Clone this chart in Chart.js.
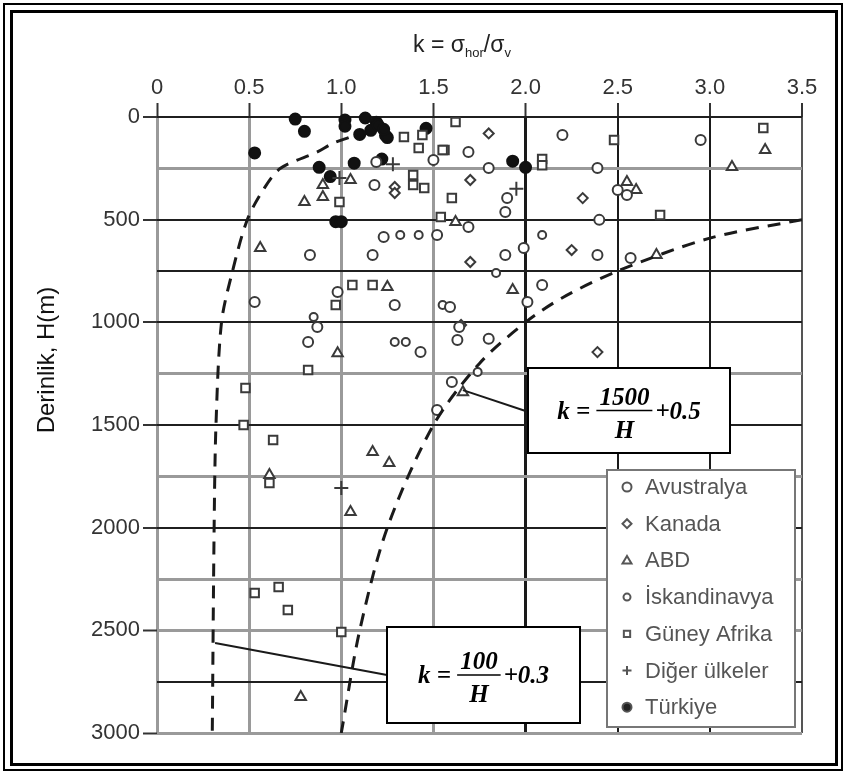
<!DOCTYPE html>
<html>
<head>
<meta charset="utf-8">
<script src="https://cdn.jsdelivr.net/npm/chart.js@4.4.1/dist/chart.umd.min.js"></script>
<style>
  html, body { margin: 0; padding: 0; background: #fff; overflow: hidden; }
  canvas { display: block; }
</style>
</head>
<body>
<canvas id="k-depth" width="844" height="771"></canvas>
<script>
// [k, H] pairs
const avustralya = [
    [2.20, 88], [2.95, 112], [1.69, 170], [1.80, 248], [2.39, 248], [2.50, 356],
    [2.55, 380], [1.90, 395], [1.89, 463], [1.69, 536], [2.40, 501], [1.99, 638],
    [2.39, 672], [1.89, 672], [2.57, 687], [2.09, 818], [2.01, 901], [1.52, 575],
    [1.50, 209], [1.19, 219], [1.18, 331], [1.23, 584], [0.83, 672], [1.17, 672],
    [0.98, 852], [1.29, 916], [0.53, 901], [0.87, 1023], [0.82, 1096], [1.43, 1145],
    [1.64, 1023], [1.63, 1086], [1.60, 1291], [1.52, 1427], [1.80, 1080], [1.59, 925],
];
const kanada = [
    [1.80, 80], [1.70, 307], [2.31, 395], [2.25, 648], [1.70, 706], [1.29, 341],
    [2.39, 1145], [1.65, 1013], [1.29, 370],
];
const abd = [
    [3.30, 161], [3.12, 243], [2.55, 317], [2.60, 356], [1.62, 511], [2.71, 672],
    [1.93, 843], [1.05, 307], [0.90, 331], [0.90, 390], [0.80, 414], [0.56, 638],
    [1.25, 828], [0.98, 1150], [1.17, 1632], [1.26, 1685], [0.61, 1744], [1.05, 1924],
    [0.78, 2825], [1.66, 1340],
];
const iskandinavya = [
    [1.84, 760], [1.32, 575], [1.42, 575], [0.85, 974], [1.29, 1096], [1.35, 1096],
    [2.09, 575], [1.55, 916], [1.74, 1242],
];
const guneyAfrika = [
    [2.48, 112], [1.56, 161], [1.34, 97], [1.42, 151], [1.55, 161], [1.39, 282],
    [1.39, 331], [1.45, 346], [1.60, 395], [1.54, 487], [2.73, 477], [0.99, 414],
    [1.06, 818], [1.17, 818], [0.97, 916], [0.82, 1232], [0.48, 1320], [0.47, 1500],
    [0.63, 1573], [0.61, 1783], [0.53, 2318], [0.66, 2289], [0.71, 2401], [1.00, 2508],
    [1.62, 24], [3.29, 54], [2.09, 205], [2.09, 235], [1.44, 88],
];
const digerUlkeler = [[1.28, 230], [0.99, 297], [1.00, 1807], [1.95, 350]];
const turkiye = [
    [0.75, 10], [0.80, 70], [0.53, 175], [1.02, 15], [1.02, 45], [1.13, 5],
    [1.19, 25], [1.16, 65], [1.24, 90], [1.10, 85], [1.25, 100], [1.46, 55],
    [1.22, 205], [1.07, 225], [0.88, 245], [0.94, 290], [0.97, 510], [1.00, 510],
    [1.93, 215], [2.00, 245], [1.20, 40], [1.23, 60],
];

// dashed envelope curves
const curveUpper = [
    [3.5, 500], [3.0, 590], [2.5, 750], [2.2, 880], [2.0, 1000], [1.75, 1200],
    [1.5, 1500], [1.25, 2000], [1.1, 2500], [1.0, 3000],
];
const curveLower = [
    [1.04, 100], [0.95, 130], [0.87, 170], [0.67, 250], [0.58, 350], [0.49, 500],
    [0.41, 750], [0.35, 1000], [0.32, 1500], [0.31, 2000], [0.30, 3000],
];
// leader lines from the curves to the formula boxes
const leaderUpper = [[1.66, 1330], [2.0, 1432]];
const leaderLower = [[0.315, 2562], [1.248, 2718]];

const xTicks = [0, 0.5, 1.0, 1.5, 2.0, 2.5, 3.0, 3.5];
const xTickLabels = ["0", "0.5", "1.0", "1.5", "2.0", "2.5", "3.0", "3.5"];
const yLabelStep = 500;

const legendItems = ["Avustralya", "Kanada", "ABD", "İskandinavya", "Güney Afrika", "Diğer ülkeler", "Türkiye"];

const toXY = (arr) => arr.map((p) => ({ x: p[0], y: p[1] }));
const SANS = '"Liberation Sans", Arial, sans-serif';
const SERIF = '"Liberation Serif", "Times New Roman", serif';

const markerSets = [
    { data: avustralya, style: "circle", radius: 5, fill: "#fff" },
    { data: kanada, style: "rectRot", radius: 5, fill: "#fff" },
    { data: abd, style: "triangle", radius: 6, fill: "#fff" },
    { data: iskandinavya, style: "circle", radius: 4, fill: "#fff" },
    { data: guneyAfrika, style: "rect", radius: 6, fill: "#fff" },
    { data: digerUlkeler, style: "cross", radius: 7, fill: "#fff" },
    { data: turkiye, style: "circle", radius: 5.5, fill: "#111" },
];

const lineSet = (data, dashed) => ({
    type: "line",
    data: toXY(data),
    showLine: true,
    pointRadius: 0,
    borderColor: "#1a1a1a",
    borderWidth: dashed ? 3 : 2,
    borderDash: dashed ? [13, 9] : [],
    tension: dashed ? 0.3 : 0,
    fill: false,
});

const datasets = [
    lineSet(curveUpper, true),
    lineSet(curveLower, true),
    lineSet(leaderUpper, false),
    lineSet(leaderLower, false),
].concat(markerSets.map((m, i) => ({
    label: legendItems[i],
    data: toXY(m.data),
    pointStyle: m.style,
    pointRadius: m.radius,
    pointBorderWidth: 2,
    pointBorderColor: i === 6 ? "#111" : "#3a3a3a",
    pointBackgroundColor: m.fill,
    showLine: false,
    clip: false,
})));

const xGray = [0, 0.5, 1.0, 1.5];
const yGray = [250, 1250, 1750, 2250, 2500, 3000];

function drawMarker(ctx, style, x, y, r) {
    ctx.beginPath();
    if (style === "circle") {
        ctx.arc(x, y, r, 0, Math.PI * 2);
    } else if (style === "rectRot") {
        ctx.moveTo(x, y - r); ctx.lineTo(x + r, y); ctx.lineTo(x, y + r); ctx.lineTo(x - r, y); ctx.closePath();
    } else if (style === "triangle") {
        ctx.moveTo(x, y - r); ctx.lineTo(x + r, y + r * 0.7); ctx.lineTo(x - r, y + r * 0.7); ctx.closePath();
    } else if (style === "rect") {
        ctx.rect(x - r * 0.7, y - r * 0.7, r * 1.4, r * 1.4);
    } else if (style === "cross") {
        ctx.moveTo(x - r, y); ctx.lineTo(x + r, y); ctx.moveTo(x, y - r); ctx.lineTo(x, y + r);
    }
    if (style !== "cross") ctx.fill();
    ctx.stroke();
}

function drawFormula(ctx, box, num, tail) {
    ctx.save();
    ctx.fillStyle = "#fff";
    ctx.fillRect(box.x, box.y, box.w, box.h);
    ctx.strokeStyle = "#000";
    ctx.lineWidth = 2;
    ctx.strokeRect(box.x, box.y, box.w, box.h);
    ctx.fillStyle = "#000";
    ctx.font = "bold italic 25px " + SERIF;
    ctx.textBaseline = "alphabetic";
    ctx.textAlign = "left";
    const wK = ctx.measureText("k").width;
    const wEq = ctx.measureText(" = ").width;
    const wNum = ctx.measureText(num).width;
    const wTail = ctx.measureText(tail).width;
    const fracW = wNum + 6;
    const total = wK + wEq + fracW + 3 + wTail;
    let x = box.x + box.w / 2 - total / 2;
    const mid = box.y + box.h / 2;
    ctx.fillText("k", x, mid + 8);
    x += wK;
    ctx.fillText(" = ", x, mid + 8);
    x += wEq;
    ctx.fillText(num, x + 3, mid - 6);
    ctx.beginPath();
    ctx.moveTo(x, mid);
    ctx.lineTo(x + fracW, mid);
    ctx.lineWidth = 1.5;
    ctx.stroke();
    ctx.textAlign = "center";
    ctx.fillText("H", x + fracW / 2, mid + 27);
    ctx.textAlign = "left";
    x += fracW + 3;
    ctx.fillText(tail, x, mid + 8);
    ctx.restore();
}

const decorations = {
    id: "decorations",
    beforeDraw(chart) {
        const ctx = chart.ctx;
        ctx.save();
        ctx.fillStyle = "#fff";
        ctx.fillRect(0, 0, chart.width, chart.height);
        ctx.restore();
    },
    afterDraw(chart) {
        const ctx = chart.ctx;
        ctx.save();

        // top title: k = σhor/σv
        ctx.fillStyle = "#222";
        ctx.textBaseline = "alphabetic";
        const big = "23px " + SANS;
        const small = "13px " + SANS;
        const parts = [["k = σ", big, 0], ["hor", small, 5], ["/σ", big, 0], ["v", small, 5]];
        let w = 0;
        parts.forEach((p) => { ctx.font = p[1]; w += ctx.measureText(p[0]).width; });
        let tx = 462 - w / 2;
        parts.forEach((p) => {
            ctx.font = p[1];
            ctx.fillText(p[0], tx, 52 + p[2]);
            tx += ctx.measureText(p[0]).width;
        });

        // y title
        ctx.save();
        ctx.translate(47, 360);
        ctx.rotate(-Math.PI / 2);
        ctx.font = "24px " + SANS;
        ctx.fillStyle = "#111";
        ctx.textAlign = "center";
        ctx.textBaseline = "middle";
        ctx.fillText("Derinlik, H(m)", 0, 0);
        ctx.restore();

        // formula boxes
        drawFormula(ctx, { x: 528, y: 368, w: 202, h: 85 }, "1500", "+0.5");
        drawFormula(ctx, { x: 387, y: 627, w: 193, h: 96 }, "100", "+0.3");

        // legend
        const lg = { x: 607, y: 470, w: 188, h: 257 };
        ctx.fillStyle = "#fff";
        ctx.fillRect(lg.x, lg.y, lg.w, lg.h);
        ctx.strokeStyle = "#777";
        ctx.lineWidth = 2;
        ctx.strokeRect(lg.x, lg.y, lg.w, lg.h);
        legendItems.forEach((label, i) => {
            const y = 487 + i * 36.7;
            const m = markerSets[i];
            ctx.strokeStyle = "#555";
            ctx.lineWidth = 2;
            ctx.fillStyle = i === 6 ? "#222" : "#fff";
            drawMarker(ctx, m.style, 627, y, i === 3 ? 3.5 : 4.5);
            ctx.fillStyle = "#555";
            ctx.font = "22px " + SANS;
            ctx.textAlign = "left";
            ctx.textBaseline = "middle";
            ctx.fillText(label, 645, y + 1);
        });

        // double frame
        ctx.strokeStyle = "#000";
        ctx.lineWidth = 2;
        ctx.strokeRect(4, 4, 838, 766);
        ctx.lineWidth = 3;
        ctx.strokeRect(11.5, 11.5, 825, 753);
        ctx.restore();
    },
};

const ctx = document.getElementById("k-depth").getContext("2d");
const chart = new Chart(ctx, {
    type: "scatter",
    data: { datasets: datasets },
    options: {
        responsive: false,
        animation: false,
        layout: { padding: { left: 0, top: 0, right: 42, bottom: 38 } },
        plugins: {
            legend: { display: false },
            tooltip: { enabled: false },
        },
        scales: {
            x: {
                type: "linear",
                position: "top",
                min: 0,
                max: 3.5,
                afterBuildTicks: (scale) => {
                    scale.ticks = xTicks.map((v) => ({ value: v }));
                },
                afterFit: (scale) => { scale.height = 117; },
                ticks: {
                    callback: (v) => xTickLabels[xTicks.indexOf(v)],
                    font: { family: SANS, size: 22 },
                    color: "#333",
                    padding: 2,
                    maxRotation: 0,
                },
                grid: {
                    color: (c) => (xGray.includes(c.tick.value) ? "#9a9a9a" : (c.tick.value === 3.5 ? "#555" : "#1a1a1a")),
                    lineWidth: (c) => (c.tick.value === 2.0 || xGray.includes(c.tick.value) ? 3 : 2),
                    tickColor: "#333",
                    tickLength: 14,
                    tickWidth: 2,
                },
                border: { display: false },
            },
            y: {
                type: "linear",
                reverse: true,
                min: 0,
                max: 3000,
                ticks: {
                    stepSize: 250,
                    callback: (v) => (v % yLabelStep === 0 ? String(v) : ""),
                    font: { family: SANS, size: 22 },
                    color: "#333",
                    padding: 3,
                },
                afterFit: (scale) => { scale.width = 157; },
                grid: {
                    color: (c) => (yGray.includes(c.tick.value) ? "#9a9a9a" : "#1f1f1f"),
                    lineWidth: (c) => (yGray.includes(c.tick.value) ? 3 : 2),
                    tickColor: (c) => (c.tick.value % yLabelStep === 0 ? "#333" : "rgba(0,0,0,0)"),
                    tickLength: 14,
                    tickWidth: 2,
                },
                border: { display: false },
            },
        },
    },
    plugins: [decorations],
});
</script>
</body>
</html>
